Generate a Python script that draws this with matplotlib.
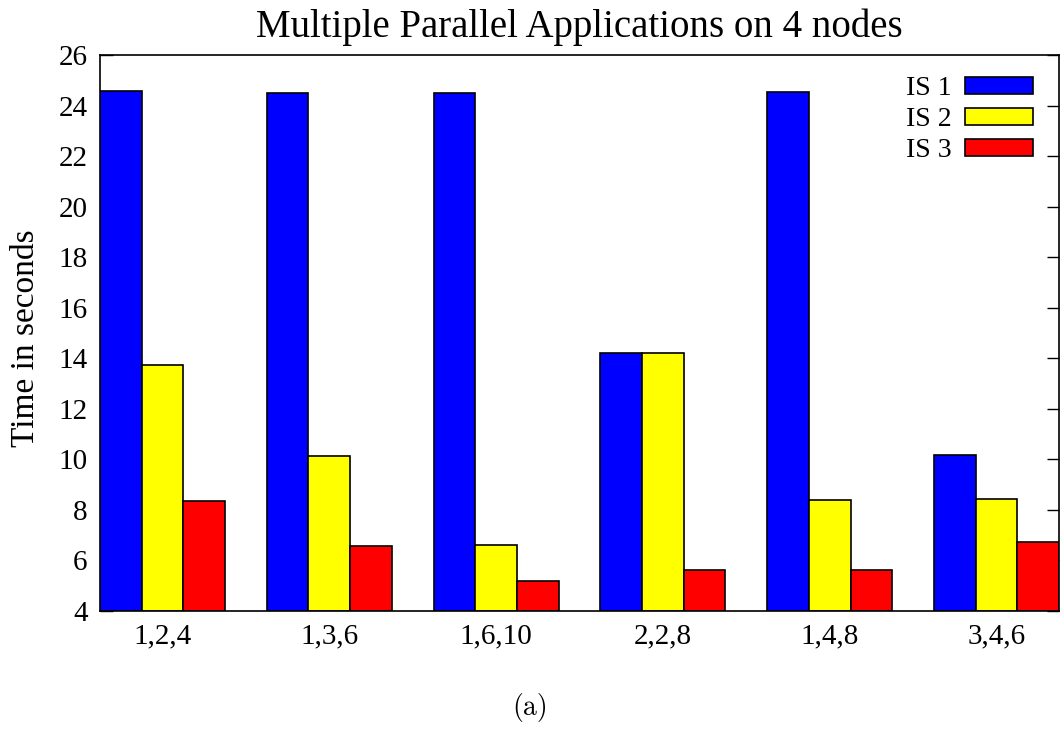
import matplotlib
matplotlib.use("Agg")
import matplotlib.pyplot as plt
import numpy as np

categories = ["1,2,4", "1,3,6", "1,6,10", "2,2,8", "1,4,8", "3,4,6"]
series_names = ["IS 1", "IS 2", "IS 3"]
is1 = [24.58, 24.5, 24.5, 14.2, 24.55, 10.17]
is2 = [13.72, 10.12, 6.6, 14.2, 8.4, 8.45]
is3 = [8.37, 6.58, 5.18, 5.62, 5.62, 6.72]
colors = ["#0000ff", "#ffff00", "#ff0000"]
yticks = list(range(4, 27, 2))

serif = ["Liberation Serif", "DejaVu Serif"]

fig = plt.figure(figsize=(10.62, 7.30), dpi=100)
ax = fig.add_axes([100/1062, 1 - 611/730, 959/1062, 556/730])

x = np.arange(len(categories))
w = 0.25
for i, (vals, name, c) in enumerate(zip([is1, is2, is3], series_names, colors)):
    ax.bar(x + (i - 1) * w, np.array(vals) - 4, width=w, bottom=4, color=c,
           edgecolor="black", linewidth=1.2, label=name)

ax.set_xlim(-0.375, 5.375)
ax.set_ylim(4, 26)
ax.set_axisbelow(True)
ax.set_yticks(yticks)
ax.set_yticklabels([str(t) for t in yticks], fontfamily=serif, fontsize=21)
ax.set_xticks(x)
ax.set_xticklabels(categories, fontfamily=serif, fontsize=21)
ax.tick_params(axis="y", direction="in", length=9, width=1, right=True, pad=9)
ax.tick_params(axis="x", direction="in", length=0, pad=9)
for s in ax.spines.values():
    s.set_linewidth(1.2)

ax.set_ylabel("Time in seconds", fontfamily=serif, fontsize=24)
ax.yaxis.set_label_coords(-0.062, 0.491)
ax.set_title("Multiple Parallel Applications on 4 nodes", fontfamily=serif,
             fontsize=28, pad=13)

leg = ax.legend(loc="upper right", bbox_to_anchor=(0.973, 0.962), frameon=False,
                markerfirst=False, prop={"family": serif, "size": 20},
                handlelength=2.45, handleheight=0.54, labelspacing=0.22,
                handletextpad=0.5, borderaxespad=0, borderpad=0)
for t in leg.get_texts():
    t.set_ha("right")

fig.text(530/1062, 1 - 708/730, "(a)", fontfamily=["cmr10", "DejaVu Serif"],
         fontsize=20, ha="center", va="center")

fig.savefig("out.png", dpi=100)
